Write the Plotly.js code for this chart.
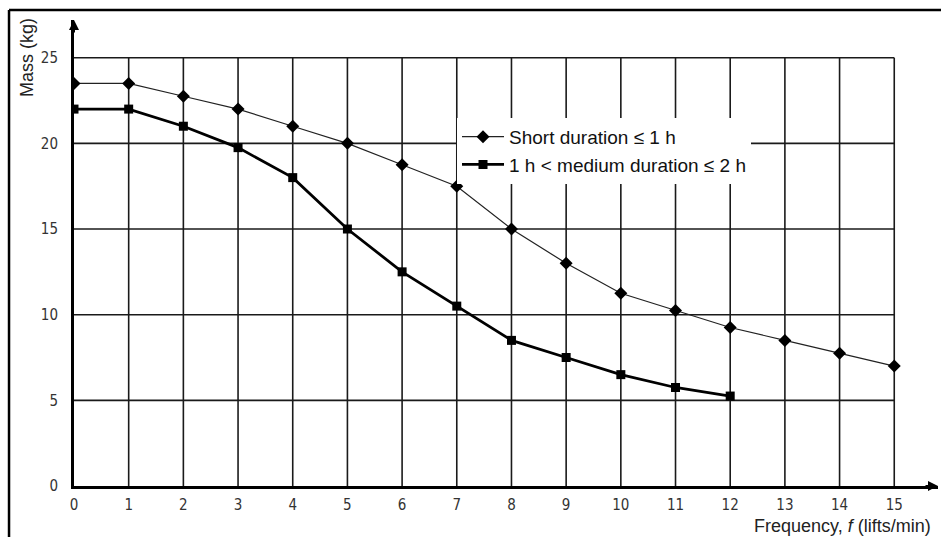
<!DOCTYPE html>
<html><head><meta charset="utf-8">
<script src="https://cdn.plot.ly/plotly-3.0.1.min.js"></script>
<style>html,body{margin:0;padding:0;background:#fff}#chart{width:941px;height:537px}</style>
</head><body><div id="chart"></div>
<script>
const freqShort = [0,1,2,3,4,5,6,7,8,9,10,11,12,13,14,15];
const massShort = [23.5,23.5,22.75,22,21,20,18.75,17.5,15,13,11.25,10.25,9.25,8.5,7.75,7];
const freqMedium = [0,1,2,3,4,5,6,7,8,9,10,11,12];
const massMedium = [22,22,21,19.75,18,15,12.5,10.5,8.5,7.5,6.5,5.75,5.25];
const xTicks = [0,1,2,3,4,5,6,7,8,9,10,11,12,13,14,15];
const yTicks = [0,5,10,15,20,25];
const nameShort = 'Short duration \u2264 1 h';
const nameMedium = '1 h &lt; medium duration \u2264 2 h';

const xMax = 15.8, yMax = 27.2;
const gridColor = '#1a1a1a';
const shapes = [];
xTicks.filter(v => v > 0).forEach(v => shapes.push({type:'line', layer:'below', xref:'x', yref:'y', x0:v, x1:v, y0:0, y1:25, line:{color:gridColor, width:1.6}}));
yTicks.filter(v => v > 0).forEach(v => shapes.push({type:'line', layer:'below', xref:'x', yref:'y', x0:0, x1:15, y0:v, y1:v, line:{color:gridColor, width:1.6}}));
// outer frame of the figure
shapes.push({type:'line', xref:'paper', yref:'paper', x0:-0.0752, x1:-0.0752, y0:-0.12, y1:1.0215, line:{color:'#000', width:2.5}});
shapes.push({type:'line', xref:'paper', yref:'paper', x0:-0.0752, x1:1.01, y0:1.0215, y1:1.0215, line:{color:'#000', width:2.5}});

const traces = [
  {x:freqShort, y:massShort, name:nameShort, mode:'lines+markers', type:'scatter',
   line:{color:'#222', width:1.2}, marker:{symbol:'diamond', size:10, color:'#000'}},
  {x:freqMedium, y:massMedium, name:nameMedium, mode:'lines+markers', type:'scatter',
   line:{color:'#000', width:2.8}, marker:{symbol:'square', size:9, color:'#000'}}
];

const tickFont = {family:'Liberation Sans Narrow, DejaVu Sans Condensed, Arial, sans-serif', size:15, color:'#333'};
const layout = {
  width:941, height:537,
  margin:{l:74, r:3, t:20, b:51},
  paper_bgcolor:'#fff', plot_bgcolor:'#fff',
  showlegend:true,
  legend:{x:0.4433, xanchor:'left', y:0.79, yanchor:'top', bgcolor:'#fff', borderwidth:0,
          font:{family:'Liberation Sans, Arial, sans-serif', size:19, color:'#111'},
          tracegroupgap:0, itemwidth:42},
  xaxis:{range:[0,xMax], tickvals:xTicks, ticktext:xTicks.map(String), showgrid:false, zeroline:false,
         showline:true, linecolor:'#000', linewidth:3, ticks:'', tickfont:tickFont, ticklabelstandoff:3, fixedrange:true},
  yaxis:{range:[0,yMax], tickvals:yTicks, ticktext:yTicks.map(String), showgrid:false, zeroline:false,
         showline:true, linecolor:'#000', linewidth:3, ticks:'', tickfont:tickFont, ticklabelstandoff:10, fixedrange:true},
  shapes:shapes,
  annotations:[
    {x:xMax, y:0, xref:'x', yref:'y', ax:-14, ay:0, showarrow:true, arrowhead:2, arrowsize:1, arrowwidth:2, arrowcolor:'#000', text:''},
    {x:0, y:yMax, xref:'x', yref:'y', ax:0, ay:14, showarrow:true, arrowhead:2, arrowsize:1, arrowwidth:2, arrowcolor:'#000', text:''},
    {xref:'paper', yref:'paper', x:-0.0544, y:0.9206, xanchor:'center', yanchor:'middle', textangle:-90, showarrow:false,
     text:'Mass (kg)', font:{family:'Liberation Sans, Arial, sans-serif', size:18, color:'#222'}},
    {xref:'paper', yref:'paper', x:0.993, xanchor:'right', y:-0.1085, yanchor:'bottom', showarrow:false, borderpad:0,
     text:'Frequency, <i>f</i> (lifts/min)', font:{family:'Liberation Sans, Arial, sans-serif', size:18, color:'#222'}}
  ]
};
Plotly.newPlot('chart', traces, layout, {displayModeBar:false, staticPlot:true});
</script>
</body></html>
